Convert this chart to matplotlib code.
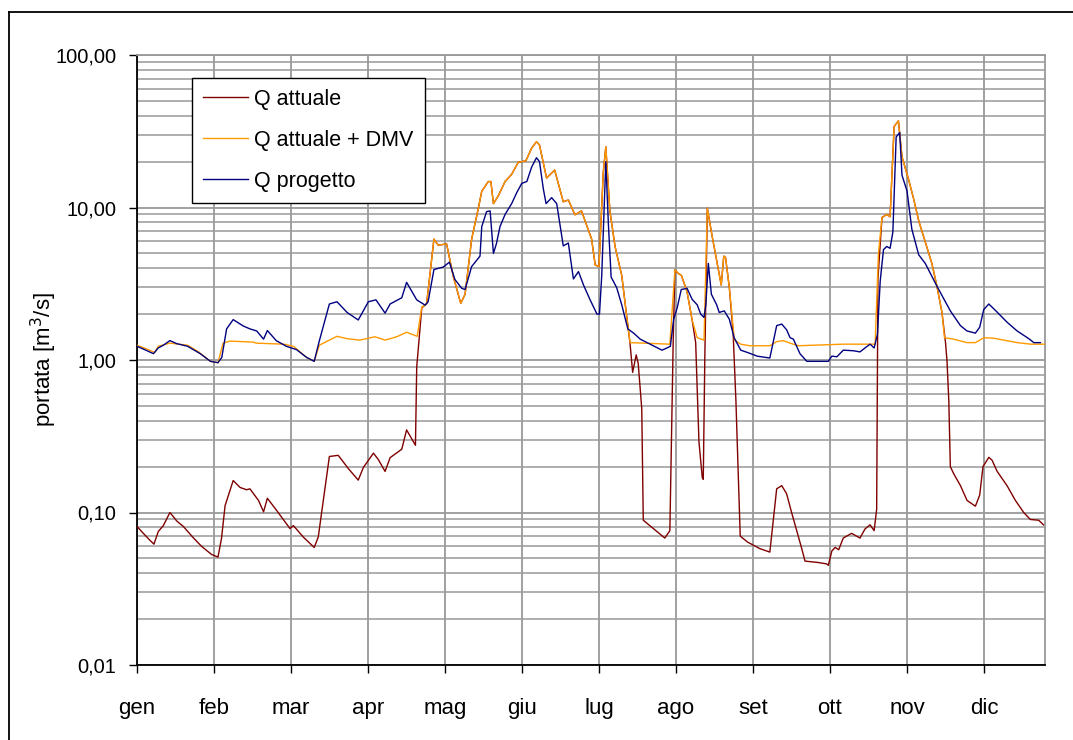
import matplotlib
matplotlib.use("Agg")
import matplotlib.pyplot as plt
from matplotlib.ticker import FixedLocator, NullFormatter, LogLocator, NullLocator
from matplotlib.lines import Line2D

plt.rcParams['font.family'] = ['Liberation Sans', 'DejaVu Sans']

# ---------------- data (day of year, m3/s) ----------------
month_labels = ['gen', 'feb', 'mar', 'apr', 'mag', 'giu', 'lug', 'ago', 'set', 'ott', 'nov', 'dic']
y_tick_values = [0.01, 0.1, 1, 10, 100]
y_tick_labels = ['0,01', '0,10', '1,00', '10,00', '100,00']

prog_days = [0, 3, 6.5, 8.4, 10.4, 13, 15.7, 20, 25, 29, 32, 33.5, 35.4, 38, 42, 44.6, 47.3, 50, 51.5, 55,
             59, 63, 67, 70, 72, 76, 79, 83, 87.4, 91.4, 94.4, 98, 100, 104.6, 106.5, 110.5, 113.8, 115, 117.3,
             121, 123.4, 125.6, 128.3, 129.6, 132.2, 135.5, 136.2, 138.1, 139.5, 140.8, 142, 143.4, 145.4, 148,
             150, 152, 154, 155.9, 157.8, 159, 160.5, 161.6, 163.8, 165.8, 168.4, 170.4, 172.4, 174.4, 176.4,
             179, 181.7, 182.7, 183.6, 185.2, 186.2, 187.3, 189.5, 191.5, 193.9, 196.2, 198.8, 204, 207.4,
             209.4, 210.7, 212, 213.4, 215, 217.3, 219.3, 221.3, 222.7, 224, 224.7, 225.7, 226.9, 229, 230,
             232, 234, 235.9, 238.5, 241.2, 245, 250, 252.7, 254.7, 256.6, 258, 259.3, 261.9, 264.6, 273.1,
             274.5, 276.5, 279, 283, 285.6, 287.6, 289.6, 291.2, 292.5, 293.6, 294.9, 296.2, 297.5, 298.6,
             299.9, 301.3, 302.2, 304.2, 306.1, 308.8, 311.4, 313.4, 316, 318.7, 321.3, 325.3, 327.9, 331.2,
             332.9, 334.5, 336.5, 339.8, 343.7, 347.7, 352.3, 354.3, 356.9]
prog_vals = [1.23, 1.17, 1.10, 1.20, 1.25, 1.34, 1.28, 1.23, 1.10, 0.98, 0.96, 1.04, 1.6, 1.84, 1.67, 1.6,
             1.55, 1.37, 1.56, 1.34, 1.23, 1.17, 1.04, 0.98, 1.33, 2.33, 2.41, 2.05, 1.83, 2.41, 2.48, 2.03,
             2.33, 2.56, 3.23, 2.48, 2.29, 2.41, 3.92, 4.07, 4.38, 3.37, 2.95, 2.9, 4.1, 4.8, 7.5, 9.4, 9.5,
             5.0, 5.8, 7.5, 9.0, 10.6, 12.5, 14.4, 14.8, 18.4, 21.2, 20, 13.3, 10.6, 11.6, 10.6, 5.6, 5.85,
             3.4, 3.8, 3.1, 2.48, 2.0, 2.0, 3.6, 20, 7.9, 3.5, 2.98, 2.3, 1.6, 1.5, 1.37, 1.24, 1.16, 1.2,
             1.23, 1.85, 2.2, 2.9, 2.95, 2.5, 2.3, 2.0, 1.9, 2.3, 4.3, 2.7, 2.3, 2.05, 2.1, 1.85, 1.4, 1.16,
             1.12, 1.06, 1.03, 1.68, 1.72, 1.58, 1.4, 1.37, 1.1, 0.98, 0.98, 1.06, 1.05, 1.16, 1.15, 1.13,
             1.2, 1.27, 1.2, 1.47, 3.3, 5.3, 5.55, 5.4, 6.9, 29, 31, 16.3, 12.8, 7.2, 4.9, 4.3, 3.7, 3.05,
             2.52, 2.1, 1.68, 1.55, 1.5, 1.64, 2.14, 2.33, 2.06, 1.77, 1.55, 1.38, 1.3, 1.3]

dmv_days = [0, 3.9, 7, 8.4, 13, 20, 24, 29, 32, 34, 36.7, 46, 47, 58, 61.8, 67, 70, 72, 79, 83, 88, 94, 98,
            102.6, 106.5, 110.7, 112.5, 114.4, 117.3, 119, 122.3, 125, 127.9, 129.6, 132.2, 134.8, 136.2,
            138.8, 139.8, 140.8, 142.7, 145.4, 148, 150.6, 153.6, 155.9, 157.8, 159, 161.8, 165, 168.4,
            170.4, 173, 175.6, 179.6, 181, 182.5, 184.2, 185.2, 186.8, 188.9, 191.5, 193.4, 194.8, 210.5,
            212.5, 213.8, 215.1, 217.3, 219.3, 221.3, 224, 225.3, 227.2, 229.2, 230.8, 231.8, 232.5, 234,
            236, 238.5, 242, 250, 252.7, 255.3, 258, 261.3, 279, 291.6, 292.9, 294.3, 296.2, 297.5, 299.1,
            300.8, 302.2, 304.8, 306.8, 308.8, 311.4, 314, 316, 318, 319, 322.6, 327.9, 331.2, 334.5,
            338.4, 342.4, 347.7, 353, 358.7]
dmv_vals = [1.25, 1.18, 1.12, 1.23, 1.29, 1.25, 1.14, 0.98, 0.96, 1.29, 1.33, 1.31, 1.29, 1.27, 1.23, 1.04,
            0.98, 1.25, 1.43, 1.38, 1.35, 1.42, 1.35, 1.42, 1.52, 1.43, 2.22, 2.33, 6.2, 5.66, 5.77, 3.5,
            2.35, 2.7, 6.2, 9.8, 12.8, 14.8, 14.8, 10.6, 11.9, 14.8, 16.5, 19.8, 20.2, 24.5, 27, 25.7, 15.6,
            17.6, 10.9, 11.2, 8.96, 9.5, 6.2, 4.2, 4.1, 17, 25, 9.5, 5.5, 3.58, 1.96, 1.3, 1.27, 3.9, 3.7,
            3.58, 2.8, 1.83, 1.4, 1.35, 9.9, 6.5, 4.3, 3.1, 4.8, 4.7, 2.98, 1.35, 1.27, 1.24, 1.24, 1.32,
            1.34, 1.29, 1.24, 1.27, 1.27, 5.0, 8.6, 9.0, 8.7, 34, 37, 21.5, 15.3, 11.4, 8.2, 5.95, 4.3, 3.05,
            2.05, 1.4, 1.37, 1.3, 1.3, 1.4, 1.39, 1.35, 1.3, 1.27, 1.27]

att_days = [0, 2.5, 5, 6.7, 8.4, 10.4, 13, 15.7, 18.3, 22, 25.5, 29.5, 32, 33.4, 34.8, 38, 40.7, 43.3, 44.6,
            48, 50, 51.5, 55, 60.4, 61.8, 65.7, 70, 71.6, 73.6, 76, 79.5, 83.5, 87.4, 89.4, 93.4, 95.3, 98,
            100, 104.6, 106.5, 110, 110.5, 112.5, 114.4, 117.3, 119, 122.3, 125, 127.9, 129.6, 132.2, 134.8,
            136.2, 138.8, 139.8, 140.8, 142.7, 145.4, 148, 150.6, 153.6, 155.9, 157.8, 159, 161.8, 165,
            168.4, 170.4, 173, 175.6, 179.6, 181, 182.5, 184.2, 185.2, 186.8, 188.9, 191.5, 193.4, 194.8,
            195.8, 197.2, 198, 199.4, 200, 202.6, 205.9, 208.5, 210.5, 211.8, 212.5, 213.8, 215.1, 217.3,
            219.3, 220.7, 222, 223.3, 223.7, 224.3, 225.3, 227.2, 229.2, 230.8, 231.8, 232.5, 234, 235.5,
            236.6, 238.3, 241.2, 246, 250, 252.7, 254.7, 256.6, 258.6, 260.6, 262.6, 263.9, 269.1, 272.5,
            273.1, 274.5, 275.8, 277.2, 279, 282.3, 284.3, 285.6, 287.6, 289.6, 291.2, 292.2, 292.7, 294.3,
            296.2, 297.5, 299.1, 300.8, 302.2, 304.8, 306.8, 308.8, 311.4, 314, 316, 318, 319.4, 320, 320.7,
            321.3, 322.6, 325.3, 327.9, 331.2, 332.9, 334.2, 336.5, 337.8, 339.8, 343.7, 347, 350.3, 352.9,
            356.2, 358.1]
att_vals = [0.081, 0.073, 0.066, 0.062, 0.075, 0.082, 0.100, 0.088, 0.081, 0.069, 0.060, 0.053, 0.051, 0.068,
            0.111, 0.162, 0.146, 0.141, 0.143, 0.120, 0.101, 0.124, 0.104, 0.0786, 0.082, 0.069, 0.059, 0.069,
            0.120, 0.233, 0.237, 0.194, 0.163, 0.197, 0.245, 0.223, 0.186, 0.229, 0.26, 0.348, 0.276, 0.9,
            2.2, 2.33, 6.2, 5.66, 5.77, 3.5, 2.35, 2.7, 6.2, 9.8, 12.8, 14.8, 14.8, 10.6, 11.9, 14.8, 16.5,
            19.8, 20.2, 24.5, 27, 25.7, 15.6, 17.6, 10.9, 11.2, 8.96, 9.5, 6.2, 4.2, 4.1, 17, 25, 9.5, 5.5,
            3.58, 1.96, 1.27, 0.83, 1.08, 0.95, 0.48, 0.089, 0.082, 0.074, 0.068, 0.076, 1.27, 3.9, 3.7, 3.58,
            2.8, 1.83, 1.3, 0.29, 0.17, 0.165, 1.0, 9.9, 6.5, 4.3, 3.1, 4.8, 4.7, 2.98, 1.5, 0.54, 0.07,
            0.064, 0.058, 0.055, 0.143, 0.15, 0.133, 0.10, 0.076, 0.058, 0.048, 0.047, 0.046, 0.045, 0.056,
            0.059, 0.057, 0.068, 0.073, 0.07, 0.068, 0.078, 0.083, 0.076, 0.105, 3.4, 8.6, 9.0, 8.7, 34, 37,
            21.5, 15.3, 11.4, 8.2, 5.95, 4.3, 3.05, 2.05, 1.3, 0.98, 0.54, 0.2, 0.18, 0.15, 0.12, 0.11, 0.13,
            0.2, 0.23, 0.22, 0.186, 0.15, 0.12, 0.1, 0.09, 0.089, 0.083]

days_per_month = 365 / 12
x_end = 358.7

# ---------------- figure ----------------
W, H = 1073, 740
fig = plt.figure(figsize=(W / 100, H / 100), dpi=100)
ax = fig.add_axes([137 / W, 1 - 665 / H, (1045 - 137) / W, (665 - 55) / H])

grid_c = '#999999'
ax.plot(att_days, att_vals, color='#800000', lw=1.0, label='Q attuale', zorder=3)
ax.plot(dmv_days, dmv_vals, color='#FF9900', lw=1.0, label='Q attuale + DMV', zorder=4)
ax.plot(prog_days, prog_vals, color='#000080', lw=1.0, label='Q progetto', zorder=5)

ax.set_yscale('log')
ax.set_ylim(0.01, 100)
ax.set_xlim(0, x_end)

ax.yaxis.set_major_locator(FixedLocator(y_tick_values))
ax.set_yticklabels(y_tick_labels)
ax.yaxis.set_minor_locator(LogLocator(base=10, subs=range(2, 10)))
ax.yaxis.set_minor_formatter(NullFormatter())

month_pos = [i * days_per_month for i in range(12)]
ax.set_xticks(month_pos)
ax.set_xticklabels(month_labels)
ax.xaxis.set_minor_locator(NullLocator())

ax.grid(True, which='major', axis='both', color=grid_c, lw=1.3)
ax.grid(True, which='minor', axis='y', color=grid_c, lw=1.1)
ax.set_axisbelow(True)

ax.tick_params(axis='y', which='major', direction='out', length=6, width=1.0, color='black',
               labelsize=14.5, pad=9)
ax.tick_params(axis='y', which='minor', length=0)
ax.tick_params(axis='x', which='major', direction='out', length=6, width=1.0, color='black',
               labelsize=16, pad=18)

for s in ('left', 'bottom'):
    ax.spines[s].set_color('black')
    ax.spines[s].set_linewidth(1.3)
for s in ('top', 'right'):
    ax.spines[s].set_color(grid_c)
    ax.spines[s].set_linewidth(1.3)

ax.set_ylabel('portata [m$^3$/s]', fontsize=16)
ax.yaxis.set_label_coords((59 - 137) / (1045 - 137), 0.5)

leg = ax.legend(loc='upper left', bbox_to_anchor=((192 - 137) / 908, (665 - 78) / 610),
                borderaxespad=0, fontsize=15.5, frameon=True, fancybox=False, framealpha=1,
                edgecolor='black', handlelength=2.1, handletextpad=0.3, labelspacing=0.93,
                borderpad=0.5)
leg.get_frame().set_linewidth(1.0)

# outer chart frame
fig.add_artist(Line2D([9 / W, 9 / W], [0, 1 - 12 / H], transform=fig.transFigure, color='black', lw=1.3))
fig.add_artist(Line2D([9 / W, 1], [1 - 12 / H, 1 - 12 / H], transform=fig.transFigure, color='black', lw=1.3))

fig.savefig('out.png', dpi=100)
